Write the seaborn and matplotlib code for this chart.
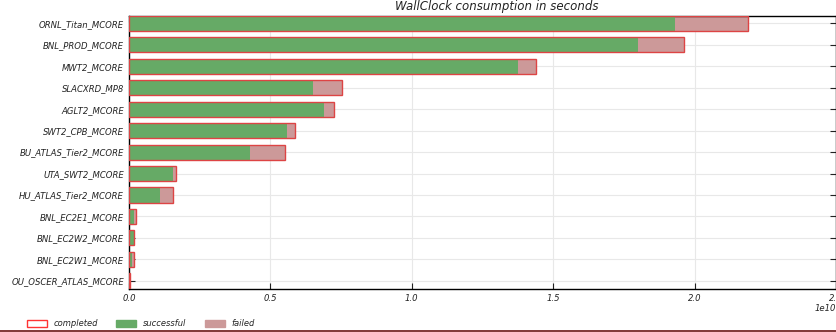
import matplotlib
matplotlib.use("Agg")
import matplotlib.pyplot as plt
import seaborn as sns
import pandas as pd
from matplotlib.patches import Patch
from matplotlib.lines import Line2D

sites = ["ORNL_Titan_MCORE", "BNL_PROD_MCORE", "MWT2_MCORE", "SLACXRD_MP8",
         "AGLT2_MCORE", "SWT2_CPB_MCORE", "BU_ATLAS_Tier2_MCORE", "UTA_SWT2_MCORE",
         "HU_ATLAS_Tier2_MCORE", "BNL_EC2E1_MCORE", "BNL_EC2W2_MCORE",
         "BNL_EC2W1_MCORE", "OU_OSCER_ATLAS_MCORE"]
successful = [1.929e10, 1.800e10, 1.376e10, 0.651e10, 0.690e10, 0.559e10, 0.428e10,
              0.157e10, 0.110e10, 0.018e10, 0.017e10, 0.011e10, 0.001e10]
completed = [2.190e10, 1.961e10, 1.438e10, 0.753e10, 0.726e10, 0.586e10, 0.553e10,
             0.166e10, 0.154e10, 0.026e10, 0.019e10, 0.017e10, 0.002e10]

df = pd.DataFrame({"site": sites, "successful": successful, "completed": completed})

sns.set_style("white")
plt.rcParams["font.family"] = ["DejaVu Sans"]
plt.rcParams["font.style"] = "italic"

fig = plt.figure(figsize=(8.37, 3.32), dpi=100)
ax = fig.add_axes([0.1541, 0.131, 0.8447, 0.821])

green = "#66aa66"
pink = "#cc9999"
red = "#dd4444"

sns.barplot(data=df, y="site", x="completed", orient="h", color=pink,
            saturation=1, width=0.7, ax=ax, zorder=2, linewidth=0)
sns.barplot(data=df, y="site", x="successful", orient="h", color=green,
            saturation=1, width=0.7, ax=ax, zorder=3, linewidth=0)
sns.barplot(data=df, y="site", x="completed", orient="h", fill=False,
            edgecolor=red, linewidth=1.0, width=0.7, ax=ax, zorder=4)

ax.set_xlim(0, 2.5e10)
ax.set_ylim(len(sites) - 1 + 0.36, -0.35)
ax.set_xticks([0, 0.5e10, 1.0e10, 1.5e10, 2.0e10, 2.5e10])
ax.set_xticklabels(["0.0", "0.5", "1.0", "1.5", "2.0", "2.5"])
ax.set_xlabel("")
ax.set_ylabel("")
ax.grid(True, color="#e8e8e8", linewidth=0.8, zorder=0)
ax.set_axisbelow(True)
ax.tick_params(direction="in", length=4, width=0.8, labelsize=6.1, colors="#222222",
               top=True, right=True, bottom=True, left=True)
ax.tick_params(axis="x", pad=4)
for s in ax.spines.values():
    s.set_color("black")
    s.set_linewidth(1.0)
ax.text(1.0, -0.072, "1e10", transform=ax.transAxes, ha="right", va="center",
        fontsize=6.1, color="#222222")
ax.set_title("WallClock consumption in seconds", fontsize=8.5, x=0.52, pad=4,
             color="#222222")

handles = [Patch(facecolor="white", edgecolor="#ff3333", linewidth=1.0, label="completed"),
           Patch(facecolor=green, edgecolor=green, label="successful"),
           Patch(facecolor=pink, edgecolor=pink, label="failed")]
fig.legend(handles=handles, loc="lower left", bbox_to_anchor=(0.023, -0.012), ncol=3,
           frameon=False, fontsize=6.0, handlelength=2.4, handleheight=0.9,
           columnspacing=2.2, handletextpad=0.8)

fig.add_artist(Line2D([0, 1], [0.002, 0.002], color="#6b1515", linewidth=1.2,
                      transform=fig.transFigure))

fig.savefig("out.png", dpi=100)
